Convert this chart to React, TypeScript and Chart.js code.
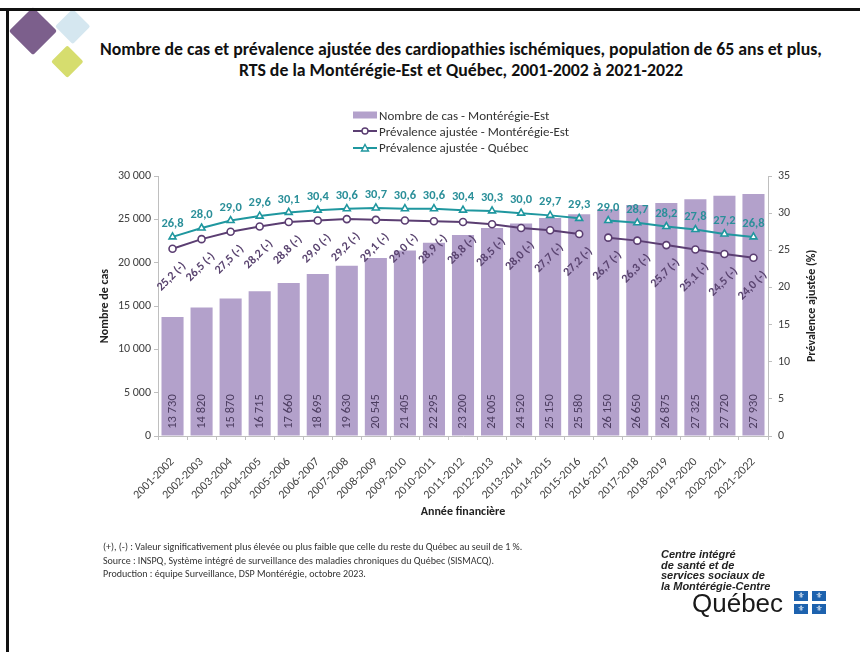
import React, { useEffect, useRef } from 'react';
import { Chart, registerables } from 'chart.js';

Chart.register(...registerables);

const FONT = "Carlito, Calibri, 'Liberation Sans Narrow', 'Open Sans', sans-serif";

const categories = [
  '2001-2002', '2002-2003', '2003-2004', '2004-2005', '2005-2006', '2006-2007', '2007-2008',
  '2008-2009', '2009-2010', '2010-2011', '2011-2012', '2012-2013', '2013-2014', '2014-2015',
  '2015-2016', '2016-2017', '2017-2018', '2018-2019', '2019-2020', '2020-2021', '2021-2022',
];
const casesMonteregieEst = [
  13730, 14820, 15870, 16715, 17660, 18695, 19630, 20545, 21405, 22295, 23200,
  24005, 24520, 25150, 25580, 26150, 26650, 26875, 27325, 27720, 27930,
];
const prevalenceMonteregieEst = [
  25.2, 26.5, 27.5, 28.2, 28.8, 29.0, 29.2, 29.1, 29.0, 28.9, 28.8,
  28.5, 28.0, 27.7, 27.2, 26.7, 26.3, 25.7, 25.1, 24.5, 24.0,
];
const significanceMonteregieEst = [
  '(-)', '(-)', '(-)', '(-)', '(-)', '(-)', '(-)', '(-)', '(-)', '(-)', '(-)',
  '(-)', '(-)', '(-)', '(-)', '(-)', '(-)', '(-)', '(-)', '(-)', '(-)',
];
const prevalenceQuebec = [
  26.8, 28.0, 29.0, 29.6, 30.1, 30.4, 30.6, 30.7, 30.6, 30.6, 30.4,
  30.3, 30.0, 29.7, 29.3, 29.0, 28.7, 28.2, 27.8, 27.2, 26.8,
];
const breakAfterCategory = '2015-2016';
const casesAxisMax = 30000;
const casesAxisStep = 5000;
const prevalenceAxisMax = 35;
const prevalenceAxisStep = 5;

const BAR = '#b3a1cb';
const PURPLE = '#5b3e72';
const TEAL = '#1f979f';

const fmtInt = (n: number) => String(Math.round(n)).replace(/\B(?=(\d{3})+(?!\d))/g, '\u00a0');
const fmtDec = (n: number) => n.toFixed(1).replace('.', ',');

const labelsPlugin = {
  id: 'valueLabels',
  afterDatasetsDraw(chart: any) {
    const ctx = chart.ctx as CanvasRenderingContext2D;
    ctx.save();
    ctx.textAlign = 'center';
    ctx.textBaseline = 'middle';
    const barMeta = chart.getDatasetMeta(0);
    barMeta.data.forEach((el: any, i: number) => {
      const { x, base } = el.getProps(['x', 'base'], true);
      ctx.save();
      ctx.translate(x, base - 24);
      ctx.rotate(-Math.PI / 2);
      ctx.font = `12.5px ${FONT}`;
      ctx.fillStyle = '#4a3b5e';
      ctx.fillText(fmtInt(casesMonteregieEst[i]), 0, 0);
      ctx.restore();
    });
    const meMeta = chart.getDatasetMeta(1);
    meMeta.data.forEach((el: any, i: number) => {
      const { x, y } = el.getProps(['x', 'y'], true);
      ctx.save();
      ctx.translate(x - 1, y + 28);
      ctx.rotate(-Math.PI / 4);
      ctx.font = `bold 12px ${FONT}`;
      ctx.fillStyle = '#5a4470';
      ctx.fillText(`${fmtDec(prevalenceMonteregieEst[i])} ${significanceMonteregieEst[i]}`, 0, 0);
      ctx.restore();
    });
    const qcMeta = chart.getDatasetMeta(2);
    qcMeta.data.forEach((el: any, i: number) => {
      const { x, y } = el.getProps(['x', 'y'], true);
      ctx.font = `bold 12.5px ${FONT}`;
      ctx.fillStyle = '#2a8f99';
      ctx.fillText(fmtDec(prevalenceQuebec[i]), x, y - 13);
    });
    ctx.restore();
  },
  afterDraw(chart: any) {
    const ctx = chart.ctx as CanvasRenderingContext2D;
    const area = chart.chartArea;
    ctx.save();
    ctx.translate(812, (area.top + area.bottom) / 2);
    ctx.rotate(-Math.PI / 2);
    ctx.font = `bold 12px ${FONT}`;
    ctx.fillStyle = '#222';
    ctx.textAlign = 'center';
    ctx.textBaseline = 'middle';
    ctx.fillText('Prévalence ajustée (%)', 0, 0);
    ctx.restore();
  },
};

function ChartCanvas() {
  const ref = useRef<HTMLCanvasElement | null>(null);
  useEffect(() => {
    if (!ref.current) return;
    const gap = (color: string) => (c: any) =>
      categories[c.p0DataIndex] === breakAfterCategory ? 'rgba(0,0,0,0)' : color;
    const axisGrid = { drawOnChartArea: false, tickLength: 4, color: '#bfbfbf' };
    const tickFont = { size: 12, family: FONT };
    const chart = new Chart(ref.current, {
      type: 'bar',
      data: {
        labels: categories,
        datasets: [
          {
            type: 'bar',
            label: 'Nombre de cas - Montérégie-Est',
            data: casesMonteregieEst,
            backgroundColor: BAR,
            yAxisID: 'y',
            order: 3,
            barPercentage: 0.76,
            categoryPercentage: 1,
          },
          {
            type: 'line',
            label: 'Prévalence ajustée - Montérégie-Est',
            data: prevalenceMonteregieEst,
            yAxisID: 'y2',
            borderColor: PURPLE,
            borderWidth: 2,
            pointStyle: 'circle',
            pointRadius: 3.5,
            pointBorderWidth: 1.6,
            pointBackgroundColor: '#ffffff',
            pointBorderColor: PURPLE,
            tension: 0,
            order: 2,
            segment: { borderColor: gap(PURPLE) },
          },
          {
            type: 'line',
            label: 'Prévalence ajustée - Québec',
            data: prevalenceQuebec,
            yAxisID: 'y2',
            borderColor: TEAL,
            borderWidth: 2,
            pointStyle: 'triangle',
            pointRadius: 4,
            pointBorderWidth: 1.6,
            pointBackgroundColor: '#ffffff',
            pointBorderColor: TEAL,
            tension: 0,
            order: 1,
            segment: { borderColor: gap(TEAL) },
          },
        ] as any,
      },
      options: {
        responsive: false,
        animation: false,
        devicePixelRatio: 1,
        layout: { padding: { left: 94, right: 37, top: 176, bottom: 129 } },
        plugins: {
          legend: { display: false },
          title: { display: false },
          tooltip: { enabled: false },
        },
        scales: {
          x: {
            grid: axisGrid,
            border: { color: '#bfbfbf' },
            ticks: {
              maxRotation: 45,
              minRotation: 45,
              autoSkip: false,
              font: { size: 12, family: FONT },
              color: '#444',
              padding: 15,
            },
            title: {
              display: true,
              text: 'Année financière',
              font: { size: 12, weight: 'bold', family: FONT },
              color: '#222',
              padding: { top: 4, bottom: 4 },
            },
            afterFit: (s: any) => { s.height = 87; },
          },
          y: {
            position: 'left',
            min: 0,
            max: casesAxisMax,
            grid: axisGrid,
            border: { color: '#bfbfbf' },
            ticks: { stepSize: casesAxisStep, callback: (v: any) => fmtInt(Number(v)), font: tickFont, color: '#404040', padding: 3 },
            title: {
              display: true,
              text: 'Nombre de cas',
              font: { size: 12, weight: 'bold', family: FONT },
              color: '#222',
              padding: { top: 4, bottom: 4 },
            },
            afterFit: (s: any) => { s.width = 64; },
          },
          y2: {
            position: 'right',
            min: 0,
            max: prevalenceAxisMax,
            grid: axisGrid,
            border: { color: '#bfbfbf' },
            ticks: { stepSize: prevalenceAxisStep, font: tickFont, color: '#404040', padding: 6 },
            afterFit: (s: any) => { s.width = 55; },
          },
        },
      } as any,
      plugins: [labelsPlugin],
    });
    return () => chart.destroy();
  }, []);
  return <canvas ref={ref} width={860} height={652} style={{ position: 'absolute', left: 0, top: 0, width: 860, height: 652 }} />;
}

function Diamond({ cx, cy, r, color }: { cx: number; cy: number; r: number; color: string }) {
  const s = r * Math.SQRT2;
  return (
    <div
      style={{
        position: 'absolute',
        left: cx - s / 2,
        top: cy - s / 2,
        width: s,
        height: s,
        background: color,
        transform: 'rotate(45deg)',
        borderRadius: 2,
      }}
    />
  );
}

function LegendLine({ color, marker }: { color: string; marker: 'circle' | 'triangle' }) {
  return (
    <svg width={24} height={10} style={{ display: 'block' }}>
      <line x1={0} y1={5} x2={24} y2={5} stroke={color} strokeWidth={2} />
      {marker === 'circle' ? (
        <circle cx={12} cy={5} r={3} fill="#fff" stroke={color} strokeWidth={1.4} />
      ) : (
        <polygon points="12,1.5 15.5,8 8.5,8" fill="#fff" stroke={color} strokeWidth={1.4} />
      )}
    </svg>
  );
}

export default function App() {
  const legendRow = { display: 'flex', alignItems: 'center', height: 16.3 } as const;
  return (
    <div style={{ position: 'absolute', left: 0, top: 0, width: 860, height: 652, background: '#fff', overflow: 'hidden', fontFamily: FONT }}>
      <Diamond cx={73} cy={27} r={18} color="#d5e7f0" />
      <Diamond cx={33} cy={31} r={24} color="#7c5f8c" />
      <Diamond cx={67} cy={61} r={16} color="#d6dd6e" />
      <div style={{ position: 'absolute', left: 0, top: 8, width: 860, height: 3, background: '#111' }} />
      <div style={{ position: 'absolute', left: 6, top: 8, width: 3, height: 644, background: '#111' }} />
      <div
        style={{
          position: 'absolute',
          left: 61,
          top: 39,
          width: 800,
          textAlign: 'center',
          fontWeight: 'bold',
          fontSize: 17.8,
          lineHeight: '21px',
          color: '#111',
        }}
      >
        <div>Nombre de cas et prévalence ajustée des cardiopathies ischémiques, population de 65 ans et plus,</div>
        <div>RTS de la Montérégie-Est et Québec, 2001-2002 à 2021-2022</div>
      </div>
      <ChartCanvas />
      <div style={{ position: 'absolute', left: 353, top: 107, fontSize: 13, color: '#333' }}>
        <div style={legendRow}>
          <svg width={24} height={10} style={{ display: 'block' }}>
            <rect x={0} y={1.5} width={24} height={7} fill={BAR} />
          </svg>
          <span style={{ marginLeft: 2 }}>Nombre de cas - Montérégie-Est</span>
        </div>
        <div style={legendRow}>
          <LegendLine color={PURPLE} marker="circle" />
          <span style={{ marginLeft: 2 }}>Prévalence ajustée - Montérégie-Est</span>
        </div>
        <div style={legendRow}>
          <LegendLine color={TEAL} marker="triangle" />
          <span style={{ marginLeft: 2 }}>Prévalence ajustée - Québec</span>
        </div>
      </div>
      <div style={{ position: 'absolute', left: 103, top: 540, fontSize: 10, lineHeight: '13.5px', color: '#333' }}>
        <div>(+), (-) : Valeur significativement plus élevée ou plus faible que celle du reste du Québec au seuil de 1 %.</div>
        <div>Source : INSPQ, Système intégré de surveillance des maladies chroniques du Québec (SISMACQ).</div>
        <div>Production : équipe Surveillance, DSP Montérégie, octobre 2023.</div>
      </div>
      <div
        style={{
          position: 'absolute',
          left: 661,
          top: 549,
          fontFamily: "'Liberation Sans', Arial, sans-serif",
          fontWeight: 'bold',
          fontStyle: 'italic',
          fontSize: 11,
          lineHeight: '10.6px',
          color: '#222',
        }}
      >
        <div>Centre intégré</div>
        <div>de santé et de</div>
        <div>services sociaux de</div>
        <div>la Montérégie-Centre</div>
      </div>
      <div
        style={{
          position: 'absolute',
          left: 692,
          top: 588,
          fontFamily: "'Liberation Sans', Arial, sans-serif",
          fontSize: 26,
          lineHeight: '30px',
          color: '#1a1a1a',
        }}
      >
        Québec
      </div>
      {[0, 1].map((row) =>
        [0, 1].map((col) => (
          <div
            key={`${row}-${col}`}
            style={{
              position: 'absolute',
              left: 794 + col * 18,
              top: 591 + row * 13,
              width: 14,
              height: 10,
              background: '#1d62ae',
              color: '#fff',
              fontSize: 8,
              lineHeight: '10px',
              textAlign: 'center',
              fontFamily: "'DejaVu Sans', sans-serif",
            }}
          >
            ⚜
          </div>
        ))
      )}
    </div>
  );
}
